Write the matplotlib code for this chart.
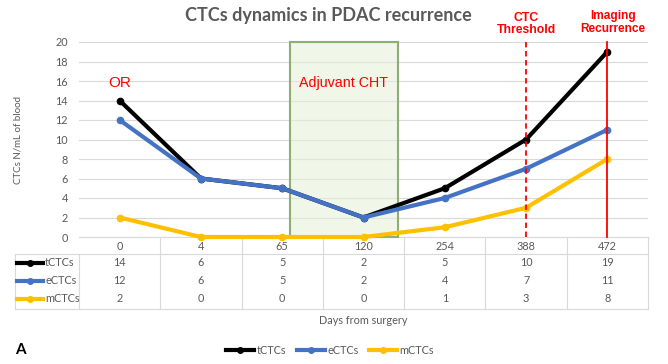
import matplotlib
matplotlib.use('Agg')
import matplotlib.pyplot as plt
import matplotlib.transforms as mtransforms
from matplotlib.patches import Rectangle
from matplotlib.lines import Line2D

plt.rcParams['font.family'] = ['Lato', 'DejaVu Sans']

days = ['0', '4', '65', '120', '254', '388', '472']
series_names = ['tCTCs', 'eCTCs', 'mCTCs']
tctcs = [14, 6, 5, 2, 5, 10, 19]
ectcs = [12, 6, 5, 2, 4, 7, 11]
mctcs = [2, 0, 0, 0, 1, 3, 8]
colors = ['#000000', '#4472C4', '#FFC000']

gray = '#595959'
x = [i + 0.5 for i in range(len(days))]

fig = plt.figure(figsize=(6.68, 3.64), dpi=100)
fig.patch.set_facecolor('white')
ax = fig.add_axes([79/668, 1-237/364, (648-79)/668, (237-42)/364])
ax.set_xlim(0, 7)
ax.set_ylim(0, 20)

# grid / spines
ax.set_yticks(range(0, 21, 2))
ax.yaxis.grid(True, color='#D9D9D9', lw=0.8)
ax.set_axisbelow(True)
for s in ['top', 'right', 'left']:
    ax.spines[s].set_visible(False)
ax.spines['bottom'].set_color('#D9D9D9')
ax.tick_params(axis='y', length=0, labelsize=7.8, labelcolor=gray, pad=8)
ax.set_xticks([])
ax.set_ylabel('CTCs N/mL of blood', fontsize=7, color=gray)
ax.yaxis.set_label_coords(-0.1, 0.5)

# adjuvant chemo box
ax.add_patch(Rectangle((2.6, 0), 1.32, 20, facecolor='#E6F0DA', alpha=0.6,
                       edgecolor='none', zorder=1))
ax.add_patch(Rectangle((2.6, 0), 1.32, 20, facecolor='none',
                       edgecolor='#8FAE76', lw=1.5, zorder=4, clip_on=False))

# series
for vals, c in zip([tctcs, ectcs, mctcs], colors):
    ax.plot(x, vals, color=c, lw=3, marker='o', ms=4.5, zorder=5, clip_on=False,
            solid_capstyle='round')

# event lines
ax.plot([5.5, 5.5], [0, 20], color='#FF0000', lw=1.3, ls=(0, (3, 2)), zorder=6, clip_on=False)
ax.plot([6.5, 6.5], [0, 20], color='#FF0000', lw=1.3, zorder=6, clip_on=False)

ax.text(0.5, 15.8, 'OR', color='#FF0000', fontsize=11, ha='center', va='center',
        family=['Liberation Sans'])
ax.text(3.25, 15.8, 'Adjuvant CHT', color='#FF0000', fontsize=10.3, ha='center',
        va='center', family=['Liberation Sans'])
ax.text(5.5, 21.8, 'CTC\nThreshold', color='#FF0000', fontsize=8.8, ha='center',
        va='center', fontweight='bold', linespacing=1.0, clip_on=False,
        family=['Liberation Sans'])
ax.text(6.57, 22.0, 'Imaging\nRecurrence', color='#FF0000', fontsize=8.6, ha='center',
        va='center', fontweight='bold', linespacing=1.0, clip_on=False,
        family=['Liberation Sans'])

fig.text(328/668, 1-15/364, 'CTCs dynamics in PDAC recurrence', ha='center',
         va='center', fontsize=13, fontweight='bold', color=gray)

# data table under the chart
trans = mtransforms.blended_transform_factory(ax.transData, ax.transAxes)
ppx = 1/195  # one pixel in axes fraction (vertical)
row_y = [-9*ppx, -26*ppx, -44*ppx, -62*ppx]
line_kw = dict(color='#D9D9D9', lw=0.8, transform=trans, clip_on=False)
left = (15-79)/81.3
ax.add_line(Line2D([left, 7], [-17*ppx, -17*ppx], **line_kw))
ax.add_line(Line2D([left, 7], [-72*ppx, -72*ppx], **line_kw))
ax.add_line(Line2D([left, left], [-17*ppx, -72*ppx], **line_kw))
ax.add_line(Line2D([0, 0], [-17*ppx, -72*ppx], **line_kw))
for i in range(1, 8):
    ax.add_line(Line2D([i, i], [0, -72*ppx], **line_kw))
for xi, d in zip(x, days):
    ax.text(xi, row_y[0], d, transform=trans, ha='center', va='center',
            fontsize=7.8, color=gray)
for r, (name, vals, c) in enumerate(zip(series_names, [tctcs, ectcs, mctcs], colors)):
    yy = row_y[r+1]
    ax.add_line(Line2D([left + 2/81.3, left + 28/81.3], [yy, yy], color=c, lw=3,
                       transform=trans, clip_on=False))
    ax.add_line(Line2D([left + 15/81.3], [yy], color=c, marker='o', ms=4,
                       transform=trans, clip_on=False))
    ax.text(left + 30/81.3, yy, name, transform=trans, ha='left', va='center',
            fontsize=7.8, color=gray)
    for xi, v in zip(x, vals):
        ax.text(xi, yy, str(v), transform=trans, ha='center', va='center',
                fontsize=7.8, color=gray)

fig.text(363/668, 1-320/364, 'Days from surgery', ha='center', va='center',
         fontsize=7.8, color=gray)
fig.text(15/668, 1-350/364, 'A', ha='left', va='center', fontsize=11,
         fontweight='bold', color='black')

handles = [Line2D([], [], color=c, lw=3, marker='o', ms=4) for c in colors]
leg = fig.legend(handles, series_names, loc='center', ncol=3,
                 bbox_to_anchor=(330/668, 1-350/364), frameon=False, fontsize=7.8,
                 handlelength=2.6, handletextpad=0.2, columnspacing=1.0)
for t in leg.get_texts():
    t.set_color(gray)

fig.savefig('out.png', dpi=100, facecolor='white')
